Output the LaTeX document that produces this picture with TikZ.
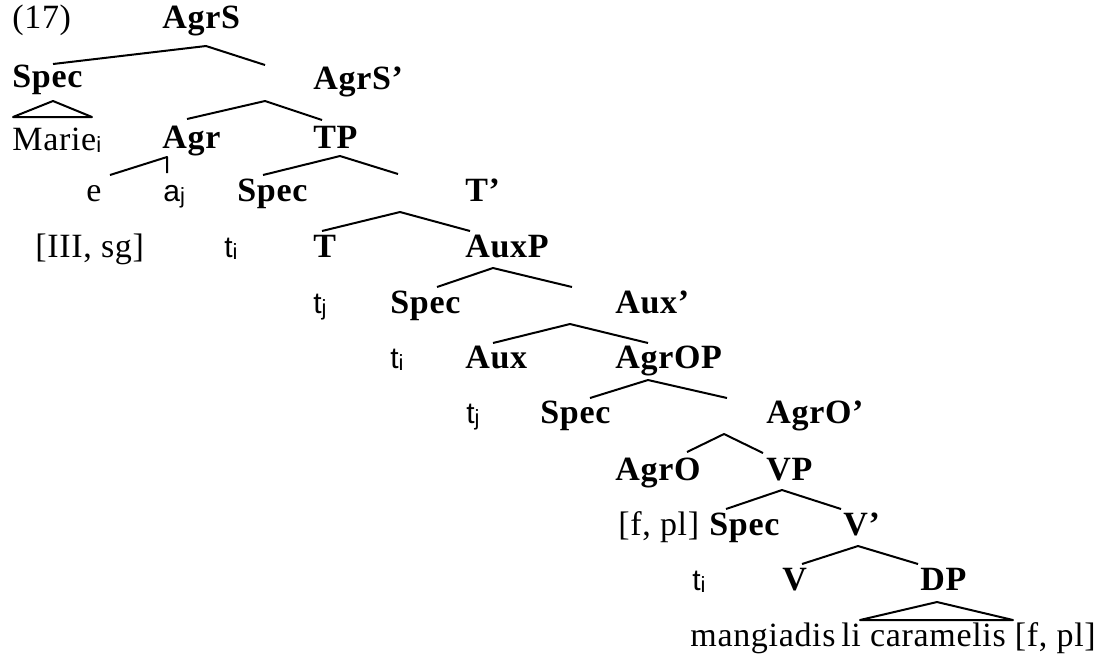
\documentclass[tikz,border=0pt]{standalone}
\usepackage{fontspec}
\setmainfont{Liberation Serif}[LetterSpace=2]
\newfontfamily\lblfont{Liberation Serif}[LetterSpace=2]
\newfontfamily\trfont{Liberation Sans}
\usepackage{tikz}

% small sans index under a trace or a name
\newcommand{\idx}[1]{\raisebox{-1pt}{\trfont\fontsize{11}{11}\selectfont #1}}

\tikzset{
  lbl/.style={anchor=base west, inner sep=0pt, font=\lblfont\bfseries\fontsize{17}{19}\selectfont},
  wrd/.style={anchor=base west, inner sep=0pt, font=\fontsize{17}{19}\selectfont},
  trc/.style={anchor=base west, inner sep=0pt, font=\trfont\fontsize{15}{17}\selectfont},
  branch/.style={line width=1pt, line join=round}
}

\begin{document}
\begin{tikzpicture}[x=0.5pt, y=-0.5pt]
				\useasboundingbox (0,0) rectangle (1095,655);
				
				% Labels, row by row
				\node[wrd] (num) at (12,28) {(17)};
				\node[lbl] (agrs) at (162,28) {AgrS};
				
				\node[lbl] (spec1) at (12,87) {Spec};
				\node[lbl] (agrsbar) at (313,89) {AgrS’};
				
				\node[wrd] (marie) at (12,150) {Marie\idx{i}};
				\node[lbl] (agr) at (162,148) {Agr};
				\node[lbl] (tp) at (313,148) {TP};
				
				\node[wrd] (e) at (86,201) {e};
				\node[trc] (aj) at (163,201) {a\idx{j}};
				\node[lbl] (spec2) at (237,201) {Spec};
				\node[lbl] (tbar) at (465,201) {T’};
				
				\node[wrd] (feat1) at (35,257) {[III, sg]};
				\node[trc] (ti1) at (224,257) {t\idx{i}};
				\node[lbl] (t) at (313,257) {T};
				\node[lbl] (auxp) at (465,257) {AuxP};
				
				\node[trc] (tj1) at (313,313) {t\idx{j}};
				\node[lbl] (spec3) at (390,313) {Spec};
				\node[lbl] (auxbar) at (615,313) {Aux’};
				
				\node[trc] (ti2) at (390,368) {t\idx{i}};
				\node[lbl] (aux) at (465,368) {Aux};
				\node[lbl] (agrop) at (615,368) {AgrOP};
				
				\node[trc] (tj2) at (466,423) {t\idx{j}};
				\node[lbl] (spec4) at (540,423) {Spec};
				\node[lbl] (agrobar) at (766,423) {AgrO’};
				
				\node[lbl] (agro) at (615,480) {AgrO};
				\node[lbl] (vp) at (766,480) {VP};
				
				\node[wrd] (feat2) at (618,535) {[f, pl]};
				\node[lbl] (spec5) at (709,535) {Spec};
				\node[lbl] (vbar) at (843,535) {V’};
				
				\node[trc] (ti3) at (692,590) {t\idx{i}};
				\node[lbl] (v) at (782,590) {V};
				\node[lbl] (dp) at (920,590) {DP};
				
				\node[wrd] (obj) at (690,646) {mangiadis\,li caramelis [f, pl]};
				
				% Branch points
				\coordinate (agrs-l) at (53,64);   \coordinate (agrs-a) at (206,46);   \coordinate (agrs-r) at (265,65);
				\coordinate (spec1-l) at (13,117); \coordinate (spec1-a) at (53,101);  \coordinate (spec1-r) at (92,117);
				\coordinate (agrsbar-l) at (187,119); \coordinate (agrsbar-a) at (265,101); \coordinate (agrsbar-r) at (322,120);
				\coordinate (agr-l) at (110,175);  \coordinate (agr-a) at (167,157);   \coordinate (agr-r) at (167,173);
				\coordinate (tp-l) at (263,175);   \coordinate (tp-a) at (340,156);    \coordinate (tp-r) at (398,174);
				\coordinate (tbar-l) at (322,231); \coordinate (tbar-a) at (400,212);  \coordinate (tbar-r) at (470,231);
				\coordinate (auxp-l) at (437,287); \coordinate (auxp-a) at (493,268);  \coordinate (auxp-r) at (572,287);
				\coordinate (auxbar-l) at (493,343); \coordinate (auxbar-a) at (570,324); \coordinate (auxbar-r) at (648,343);
				\coordinate (agrop-l) at (590,398); \coordinate (agrop-a) at (648,380); \coordinate (agrop-r) at (727,398);
				\coordinate (agrobar-l) at (687,452); \coordinate (agrobar-a) at (724,434); \coordinate (agrobar-r) at (763,453);
				\coordinate (vp-l) at (726,509);   \coordinate (vp-a) at (782,490);    \coordinate (vp-r) at (841,509);
				\coordinate (vbar-l) at (802,564); \coordinate (vbar-a) at (858,546);  \coordinate (vbar-r) at (918,564);
				\coordinate (dp-l) at (860,620);   \coordinate (dp-a) at (937,602);    \coordinate (dp-r) at (1013,620);
				
				% Branches
				\draw[branch] (agrs-l) -- (agrs-a) -- (agrs-r);
				\draw[branch] (spec1-l) -- (spec1-a) -- (spec1-r) -- cycle; % triangle over Marie
				\draw[branch] (agrsbar-l) -- (agrsbar-a) -- (agrsbar-r);
				\draw[branch] (agr-l) -- (agr-a) -- (agr-r);
				\draw[branch] (tp-l) -- (tp-a) -- (tp-r);
				\draw[branch] (tbar-l) -- (tbar-a) -- (tbar-r);
				\draw[branch] (auxp-l) -- (auxp-a) -- (auxp-r);
				\draw[branch] (auxbar-l) -- (auxbar-a) -- (auxbar-r);
				\draw[branch] (agrop-l) -- (agrop-a) -- (agrop-r);
				\draw[branch] (agrobar-l) -- (agrobar-a) -- (agrobar-r);
				\draw[branch] (vp-l) -- (vp-a) -- (vp-r);
				\draw[branch] (vbar-l) -- (vbar-a) -- (vbar-r);
				\draw[branch] (dp-l) -- (dp-a) -- (dp-r) -- cycle; % triangle over the object
			\end{tikzpicture}
\end{document}
